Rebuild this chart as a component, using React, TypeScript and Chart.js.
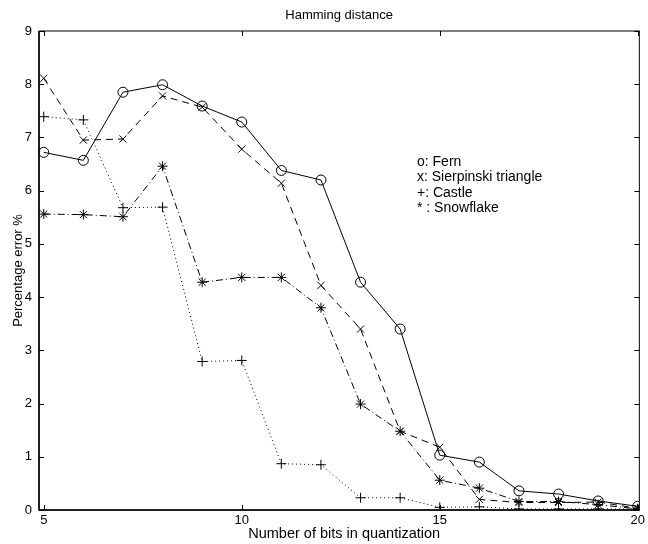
import React, { useEffect, useRef } from "react";
import { Chart, registerables } from "chart.js";

Chart.register(...registerables);

const bits = [5, 6, 7, 8, 9, 10, 11, 12, 13, 14, 15, 16, 17, 18, 19, 20];
const fern = [6.72, 6.57, 7.85, 7.99, 7.59, 7.29, 6.38, 6.2, 4.28, 3.4, 1.03, 0.9, 0.36, 0.3, 0.17, 0.07];
const sierpinski = [8.11, 6.95, 6.97, 7.78, 7.57, 6.78, 6.14, 4.22, 3.4, 1.48, 1.18, 0.2, 0.14, 0.14, 0.15, 0.03];
const castle = [7.39, 7.33, 5.68, 5.69, 2.79, 2.81, 0.87, 0.85, 0.23, 0.23, 0.05, 0.06, 0.02, 0.02, 0.02, 0.02];
const snowflake = [5.56, 5.55, 5.51, 6.46, 4.28, 4.37, 4.37, 3.8, 1.99, 1.48, 0.56, 0.41, 0.16, 0.16, 0.1, 0.02];

const xTicks = [5, 10, 15, 20];
const yTicks = [0, 1, 2, 3, 4, 5, 6, 7, 8, 9];
const legendLines = ["o: Fern", "x: Sierpinski triangle", "+: Castle", "* : Snowflake"];
const titleText = "Hamming distance";
const xLabel = "Number of bits in quantization";
const yLabel = "Percentage error %";

const FONT = '"Liberation Sans", Arial, Helvetica, sans-serif';

const toPoints = (ys: number[]) => bits.map((x, i) => ({ x, y: ys[i] }));

const decorPlugin = {
  id: "decor",
  afterDraw(chart: any) {
    const { ctx, chartArea } = chart;
    const { left, right, top, bottom } = chartArea;
    const xs = chart.scales.x;
    const ys = chart.scales.y;
    ctx.save();
    ctx.strokeStyle = "#000";
    ctx.lineWidth = 1;
    ctx.strokeRect(left, top, right - left, bottom - top);
    ctx.lineWidth = 1.5;
    ctx.beginPath();
    ctx.moveTo(left, top);
    ctx.lineTo(left, bottom);
    ctx.lineTo(right, bottom);
    ctx.stroke();
    ctx.lineWidth = 1;
    const tl = 5;
    ctx.beginPath();
    xTicks.forEach((v) => {
      const px = Math.round(xs.getPixelForValue(v)) + 0.5;
      ctx.moveTo(px, bottom);
      ctx.lineTo(px, bottom - tl);
      ctx.moveTo(px, top);
      ctx.lineTo(px, top + tl);
    });
    yTicks.forEach((v) => {
      const py = Math.round(ys.getPixelForValue(v)) + 0.5;
      ctx.moveTo(left, py);
      ctx.lineTo(left + tl, py);
      ctx.moveTo(right, py);
      ctx.lineTo(right - tl, py);
    });
    ctx.stroke();

    ctx.fillStyle = "#000";
    ctx.textAlign = "center";
    ctx.textBaseline = "middle";
    ctx.font = `13px ${FONT}`;
    ctx.fillText(titleText, (left + right) / 2, 15);
    ctx.font = `14.5px ${FONT}`;
    ctx.fillText(xLabel, (left + right) / 2 + 5, 534);
    ctx.save();
    ctx.translate(18, (top + bottom) / 2);
    ctx.rotate(-Math.PI / 2);
    ctx.font = `13px ${FONT}`;
    ctx.fillText(yLabel, 0, 0);
    ctx.restore();

    ctx.textAlign = "left";
    ctx.font = `14px ${FONT}`;
    legendLines.forEach((t, i) => {
      ctx.fillText(t, 417, 162 + i * 15.5);
    });
    ctx.restore();
  },
};

export default function App() {
  const ref = useRef<HTMLCanvasElement | null>(null);
  useEffect(() => {
    if (!ref.current) return;
    const common = {
      borderColor: "#000",
      borderWidth: 1,
      pointBorderColor: "#000",
      pointBackgroundColor: "rgba(0,0,0,0)",
      pointBorderWidth: 1,
      pointRadius: 5,
      fill: false,
      tension: 0,
    };
    const chart = new Chart(ref.current, {
      type: "line",
      data: {
        datasets: [
          { ...common, label: "Fern", data: toPoints(fern), pointStyle: "circle" },
          { ...common, label: "Sierpinski triangle", data: toPoints(sierpinski), pointStyle: "crossRot", borderDash: [7, 5] },
          { ...common, label: "Castle", data: toPoints(castle), pointStyle: "cross", borderDash: [1, 3] },
          { ...common, label: "Snowflake", data: toPoints(snowflake), pointStyle: "star", borderDash: [7, 3, 1, 3] },
        ],
      },
      options: {
        animation: false,
        responsive: false,
        maintainAspectRatio: false,
        layout: { padding: { left: 0, top: 31, right: 5, bottom: 0 } },
        plugins: { legend: { display: false }, title: { display: false }, tooltip: { enabled: false } },
        scales: {
          x: {
            type: "linear",
            min: 4.88,
            max: 20.04,
            grid: { display: false, drawTicks: false, tickLength: 0 },
            border: { display: false },
            afterBuildTicks: (s: any) => {
              s.ticks = xTicks.map((v) => ({ value: v }));
            },
            afterFit: (s: any) => {
              s.height = 34;
            },
            ticks: {
              color: "#000",
              font: { family: FONT, size: 13 },
              padding: 3,
              maxRotation: 0,
              autoSkip: false,
            },
          },
          y: {
            type: "linear",
            min: 0,
            max: 9,
            grid: { display: false, drawTicks: false, tickLength: 0 },
            border: { display: false },
            afterBuildTicks: (s: any) => {
              s.ticks = yTicks.map((v) => ({ value: v }));
            },
            afterFit: (s: any) => {
              s.width = 39;
            },
            ticks: {
              color: "#000",
              font: { family: FONT, size: 13 },
              padding: 7,
              autoSkip: false,
            },
          },
        },
      },
      plugins: [decorPlugin],
    } as any);
    return () => chart.destroy();
  }, []);
  return (
    <div style={{ position: "absolute", left: 0, top: 0, width: 648, height: 544, background: "#fff" }}>
      <canvas ref={ref} width={648} height={544} style={{ display: "block" }} />
    </div>
  );
}
